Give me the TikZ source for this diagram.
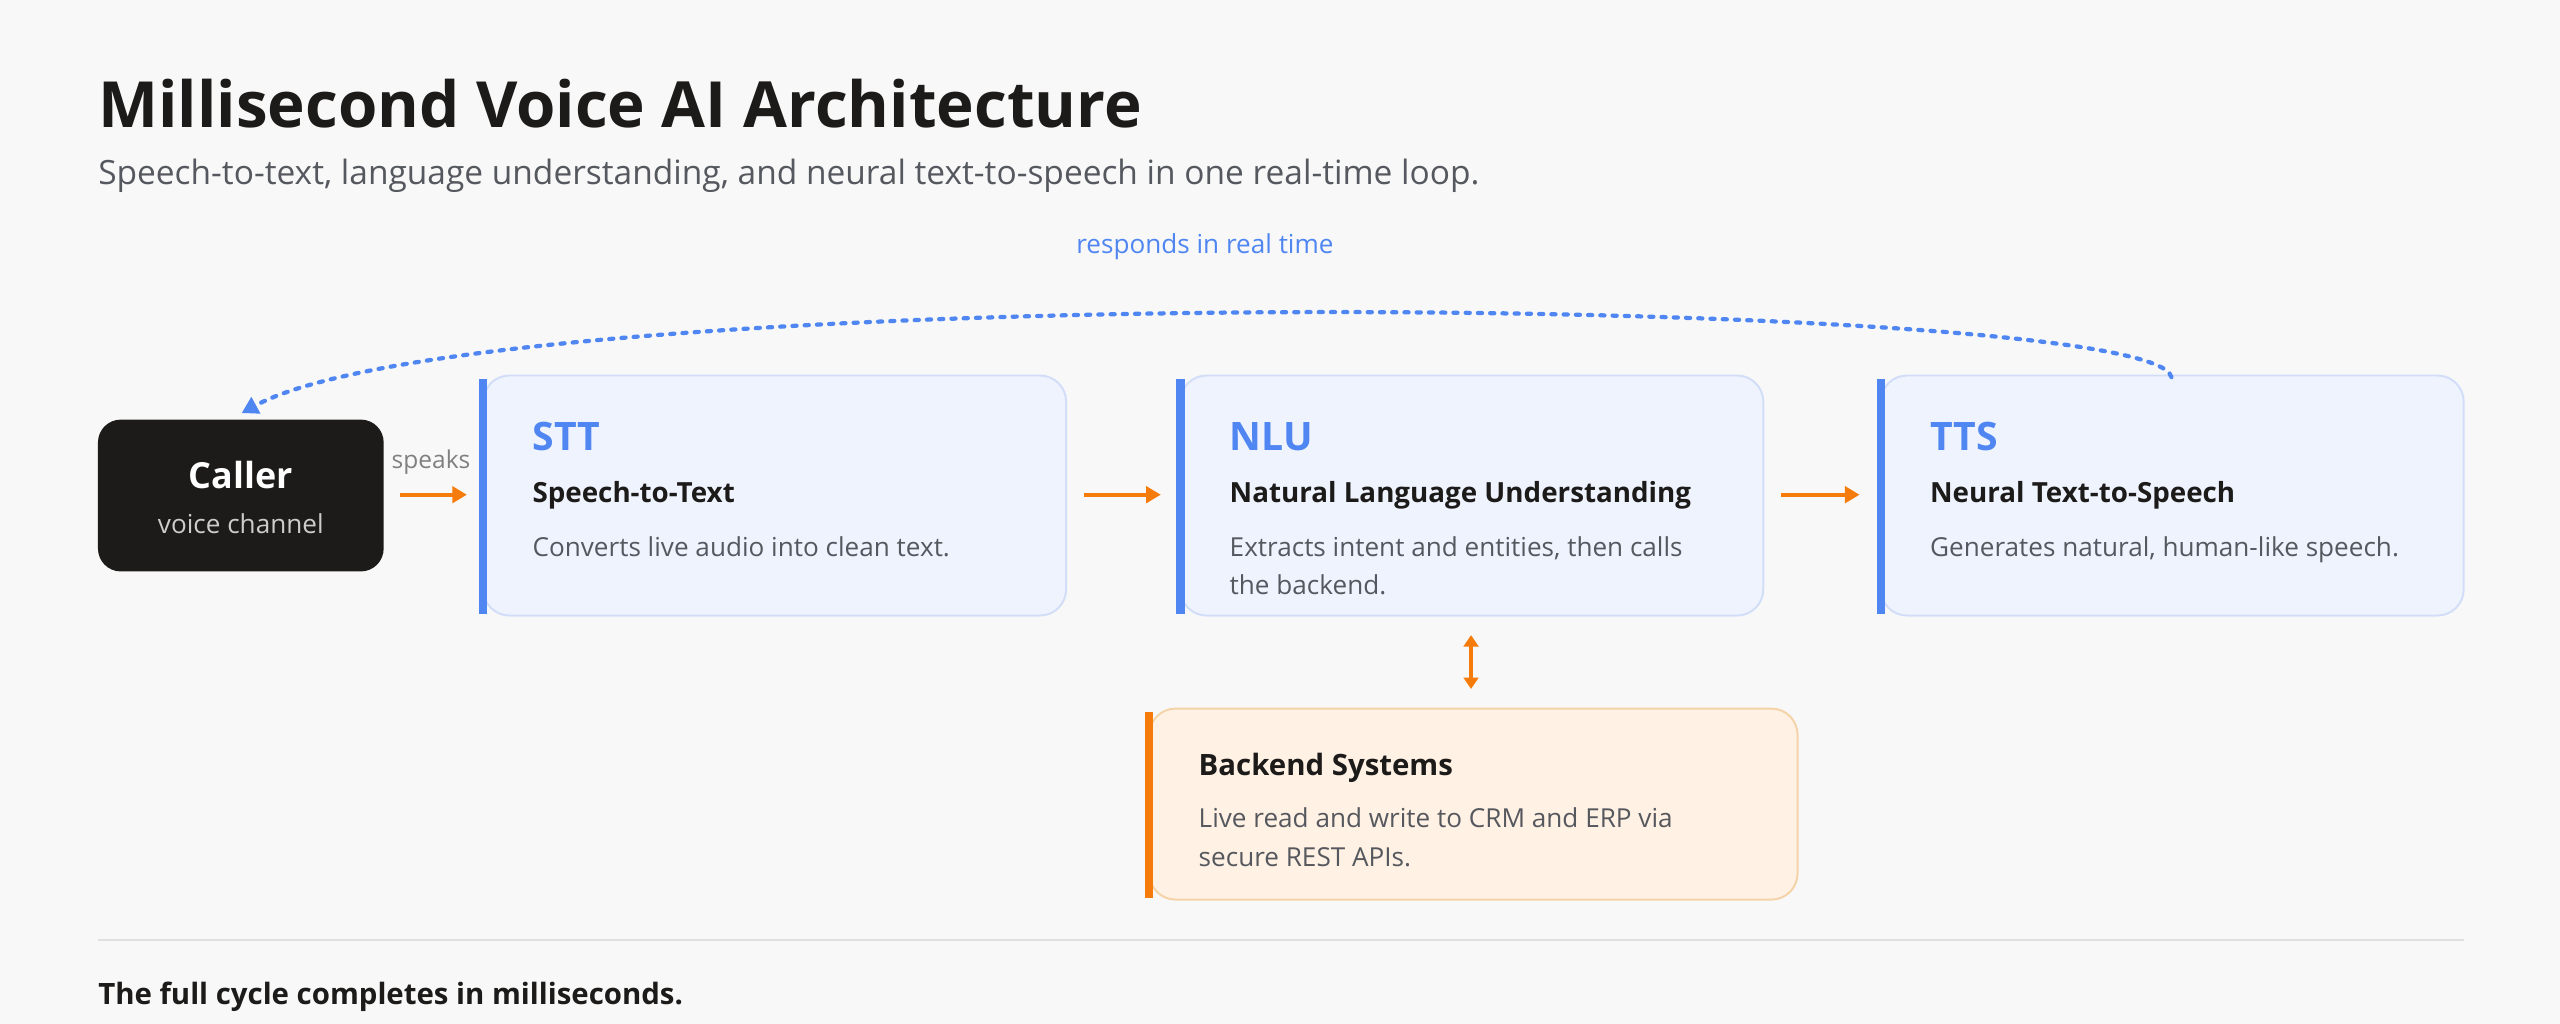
\documentclass[tikz,border=0pt]{standalone}
\usepackage{fontspec}
\setmainfont{Open Sans}
\usetikzlibrary{arrows.meta}
\definecolor{bg}{HTML}{F8F8F8}
\definecolor{ink}{HTML}{1C1B1A}
\definecolor{sub}{HTML}{55585E}
\definecolor{blu}{HTML}{4F86F2}
\definecolor{bfill}{HTML}{EEF3FE}
\definecolor{bline}{HTML}{D2DEF8}
\definecolor{org}{HTML}{F57C0A}
\definecolor{ofill}{HTML}{FFF1E3}
\definecolor{oline}{HTML}{F5D3A8}
\begin{document}
\begin{tikzpicture}[x=1pt,y=-1pt,
 fs/.style={font=\fontsize{#1}{#1}\selectfont},
 bf/.style={font=\fontsize{#1}{#1}\selectfont\bfseries},
 txt/.style={anchor=base west,inner sep=0pt},
 card/.style={draw=bline,fill=bfill,line width=1.2pt,rounded corners=16pt},
 oarr/.style={draw=org,line width=2.6pt,-{Triangle[length=9pt,width=10pt]}},
]
\useasboundingbox[fill=bg] (0,0) rectangle (1568,627);
\node[txt,bf=39,text=ink] (title) at (60,78) {Millisecond Voice AI Architecture};
\node[txt,fs=20.5,text=sub] (subt) at (60,113) {Speech-to-text, language understanding, and neural text-to-speech in one real-time loop.};
\node[fs=16,text=blu,inner sep=0pt] (resp) at (738,151) {responds in real time};
% caller
\node[fill=ink,rounded corners=14pt,minimum width=175pt,minimum height=93pt,inner sep=0pt] (caller) at (147.5,303.5) {};
\node[bf=22,text=white] (cl) at (147.5,291) {Caller};
\node[fs=16,text=white!80!black] (cv) at (147.5,321) {voice channel};
\node[fs=15,text=gray,inner sep=0pt] (spk) at (264,283) {speaks};
% cards
\foreach \n/\x in {stt/296,nlu/723,tts/1152}{
 \draw[card] (\x,230) rectangle (\x+357,377);
 \draw[blu,line width=5pt] (\x,232) -- (\x,376);
}
\node[txt,bf=24,text=blu] (a1) at (326,276) {STT};
\node[txt,bf=17,text=ink] (a2) at (326,308) {Speech-to-Text};
\node[txt,fs=16,text=sub] (a3) at (326,341) {Converts live audio into clean text.};
\node[txt,bf=24,text=blu] (b1) at (753,276) {NLU};
\node[txt,bf=17,text=ink] (b2) at (753,308) {Natural Language Understanding};
\node[txt,fs=16,text=sub] (b3) at (753,341) {Extracts intent and entities, then calls};
\node[txt,fs=16,text=sub] (b4) at (753,364) {the backend.};
\node[txt,bf=24,text=blu] (c1) at (1182,276) {TTS};
\node[txt,bf=17,text=ink] (c2) at (1182,308) {Neural Text-to-Speech};
\node[txt,fs=16,text=sub] (c3) at (1182,341) {Generates natural, human-like speech.};
% backend
\draw[draw=oline,fill=ofill,line width=1.2pt,rounded corners=16pt] (704,434) rectangle (1101,551);
\draw[org,line width=5pt] (704,436) -- (704,550);
\node[txt,bf=18,text=ink] (d1) at (734,475) {Backend Systems};
\node[txt,fs=16,text=sub] (d2) at (734,507) {Live read and write to CRM and ERP via};
\node[txt,fs=16,text=sub] (d3) at (734,531) {secure REST APIs.};
% arrows
\coordinate (s0) at (245,303); \coordinate (s1) at (286,303);
\draw[oarr] (s0) -- (s1);
\coordinate (t0) at (664,303); \coordinate (t1) at (711,303);
\draw[oarr] (t0) -- (t1);
\coordinate (u0) at (1091,303); \coordinate (u1) at (1139,303);
\draw[oarr] (u0) -- (u1);
\coordinate (v0) at (901,389); \coordinate (v1) at (901,422);
\draw[draw=org,line width=2.4pt,{Triangle[length=7pt,width=9pt]}-{Triangle[length=7pt,width=9pt]}] (v0) -- (v1);
% loop
\coordinate (l0) at (1330,231); \coordinate (l1) at (148,253);
\draw[blu,line width=2.6pt,dash pattern=on 2.5pt off 5pt,line cap=round,-{Triangle[length=10pt,width=11pt]}]
 (l0) .. controls (1320,180) and (300,170) .. (l1);
\draw[draw=black!12,line width=1.2pt] (60,576) -- (1509,576);
\node[txt,bf=18,text=ink] (foot) at (60,615) {The full cycle completes in milliseconds.};
\end{tikzpicture}
\end{document}
